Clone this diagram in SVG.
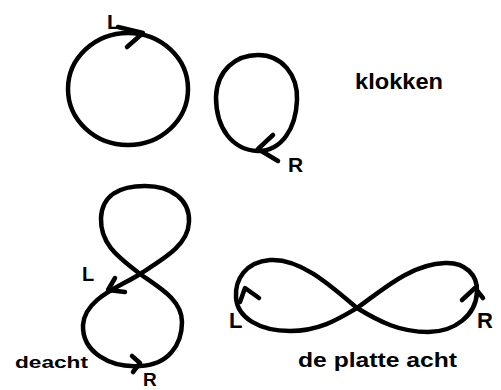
<svg xmlns="http://www.w3.org/2000/svg" width="501" height="390" viewBox="0 0 501 390">
<style>
.s{fill:none;stroke:#000;stroke-width:4.5;stroke-linecap:round;stroke-linejoin:round}
.t{font-family:"Liberation Sans",Arial,sans-serif;font-weight:bold;fill:#000}
</style>
<rect width="501" height="390" fill="#fff"/>
<g id="circle-left">
<ellipse class="s" cx="128" cy="89" rx="60" ry="56"/>
<path class="s" d="M118,27 L143,33 L127,47"/>
<text class="t" x="107" y="29" font-size="21">L</text>
</g>
<g id="circle-right">
<path class="s" d="M258,151 C232,150 216,128 216,97 C217,70 236,55 258,55 C282,55 298,75 297,100 C296,128 282,151 258,151 Z"/>
<path class="s" d="M273,135 L258,149 L278,161"/>
<text class="t" x="288" y="172" font-size="21">R</text>
</g>
<g id="klokken">
<text class="t" x="355" y="89" font-size="22" textLength="88" lengthAdjust="spacingAndGlyphs">klokken</text>
</g>
<g id="de-acht">
<path class="s" d="M140,274 C120,258 100,245 101,218 C102,195 120,186 145,186 C172,186 190,200 189,222 C188,245 165,258 140,274 C120,287 85,298 83,325 C82,352 110,368 140,366 C168,365 182,345 182,322 C182,300 160,288 140,274 Z"/>
<path class="s" d="M115,278 L108,290 L125,292"/>
<path class="s" d="M132,356 L140,363 L133,372"/>
<text class="t" x="82" y="281" font-size="20">L</text>
<text class="t" x="143" y="386" font-size="19">R</text>
<text class="t" x="15" y="368" font-size="17" textLength="73" lengthAdjust="spacingAndGlyphs">deacht</text>
</g>
<g id="platte-acht">
<path class="s" d="M357,308 C330,285 300,258 270,260 C245,262 235,280 236,297 C237,318 260,331 290,331 C320,331 340,318 357,308 C380,292 410,264 445,263 C465,262 478,275 477,292 C476,315 455,332 428,332 C400,332 380,322 357,308 Z"/>
<path class="s" d="M240,302 L245,288 L259,298"/>
<path class="s" d="M462,300 L475,288 L483,298"/>
<text class="t" x="229" y="328" font-size="22">L</text>
<text class="t" x="477" y="328" font-size="22">R</text>
<text class="t" x="298" y="367" font-size="20" textLength="159" lengthAdjust="spacingAndGlyphs">de platte acht</text>
</g>
</svg>
